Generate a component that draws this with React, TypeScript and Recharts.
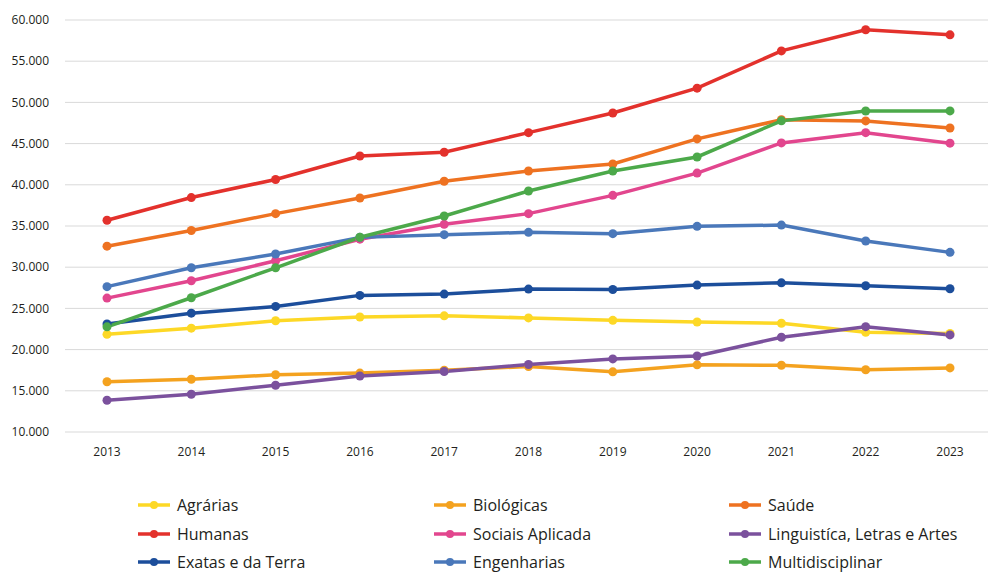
import React from 'react';
import { LineChart, Line, XAxis, YAxis, CartesianGrid, Legend } from 'recharts';

const years = ['2013', '2014', '2015', '2016', '2017', '2018', '2019', '2020', '2021', '2022', '2023'];

const agrarias = [21850, 22600, 23500, 23950, 24100, 23850, 23550, 23350, 23200, 22100, 21950];
const biologicas = [16100, 16400, 16950, 17150, 17500, 17950, 17300, 18150, 18100, 17550, 17780];
const saude = [32550, 34450, 36500, 38400, 40430, 41680, 42530, 45570, 47900, 47750, 46900];
const humanas = [35700, 38450, 40650, 43500, 43950, 46330, 48720, 51730, 56250, 58820, 58200];
const sociais = [26250, 28350, 30780, 33400, 35200, 36500, 38720, 41420, 45080, 46330, 45050];
const linguistica = [13850, 14580, 15680, 16800, 17340, 18190, 18870, 19230, 21500, 22780, 21780];
const exatas = [23100, 24420, 25240, 26580, 26740, 27340, 27300, 27830, 28100, 27750, 27380];
const engenharias = [27640, 29930, 31600, 33620, 33950, 34230, 34070, 34960, 35110, 33180, 31800];
const multidisciplinar = [22760, 26290, 29930, 33630, 36220, 39250, 41680, 43380, 47760, 48960, 48970];

const yTicks = [10000, 15000, 20000, 25000, 30000, 35000, 40000, 45000, 50000, 55000, 60000];

const seriesNames = [
  'Agrárias',
  'Biológicas',
  'Saúde',
  'Humanas',
  'Sociais Aplicada',
  'Linguistíca, Letras e Artes',
  'Exatas e da Terra',
  'Engenharias',
  'Multidisciplinar',
];
const seriesValues = [agrarias, biologicas, saude, humanas, sociais, linguistica, exatas, engenharias, multidisciplinar];
const seriesColors = ['#FDD826', '#F4A21F', '#EE7221', '#E3312C', '#E2468E', '#7B519D', '#1C4E9B', '#4A78BA', '#4CA94A'];
const seriesKeys = ['s0', 's1', 's2', 's3', 's4', 's5', 's6', 's7', 's8'];

const data = years.map((y, i) => {
  const row: Record<string, string | number> = { year: y };
  seriesKeys.forEach((k, j) => {
    row[k] = seriesValues[j][i];
  });
  return row;
});

const FONT = '"Open Sans", sans-serif';

const fmt = (v: number) => {
  const s = String(Math.round(v));
  return s.replace(/\B(?=(\d{3})+(?!\d))/g, '.');
};

const colLeft = [137, 433, 728];
const rowTop = [505, 534, 562];

const renderLegend = () => (
  <div style={{ position: 'relative', width: 988, height: 82, fontFamily: FONT }}>
    {seriesNames.map((name, i) => {
      const col = i % 3;
      const row = Math.floor(i / 3);
      return (
        <div
          key={name}
          style={{
            position: 'absolute',
            left: colLeft[col],
            top: rowTop[row] - 490 - 9,
            height: 18,
            lineHeight: '18px',
            display: 'flex',
            alignItems: 'center',
            whiteSpace: 'nowrap',
          }}
        >
          <svg width={34} height={12} style={{ marginRight: 6 }}>
            <line x1={1} y1={6} x2={33} y2={6} stroke={seriesColors[i]} strokeWidth={3.5} />
            <circle cx={17} cy={6} r={4} fill={seriesColors[i]} />
          </svg>
          <span style={{ fontSize: 16, lineHeight: '18px', color: '#231F20' }}>{name}</span>
        </div>
      );
    })}
  </div>
);

export default function App() {
  return (
    <div style={{ position: 'absolute', left: 0, top: 0, width: 988, height: 572, background: '#fff' }}>
      <LineChart width={988} height={572} data={data} margin={{ top: 20, right: 0, bottom: 28, left: 0 }}>
        <CartesianGrid horizontal vertical={false} stroke="#D9D9D9" strokeWidth={1} />
        <XAxis
          dataKey="year"
          axisLine={false}
          tickLine={false}
          tickSize={0}
          tickMargin={15}
          height={30}
          padding={{ left: 42, right: 38 }}
          interval={0}
          tick={{ fill: '#231F20', fontSize: 12, fontFamily: FONT }}
        />
        <YAxis
          domain={[10000, 60000]}
          ticks={yTicks}
          tickFormatter={fmt}
          axisLine={false}
          tickLine={false}
          tickSize={0}
          tickMargin={16}
          width={65}
          interval={0}
          tick={{ fill: '#231F20', fontSize: 12, fontFamily: FONT }}
        />
        <Legend
          verticalAlign="bottom"
          content={renderLegend}
          wrapperStyle={{ position: 'absolute', left: 0, top: 490, width: 988, height: 82 }}
        />
        {seriesKeys.map((k, i) => (
          <Line
            key={k}
            dataKey={k}
            name={seriesNames[i]}
            stroke={seriesColors[i]}
            strokeWidth={3.5}
            dot={{ r: 4.5, fill: seriesColors[i], stroke: seriesColors[i], strokeWidth: 0 }}
            activeDot={false}
            isAnimationActive={false}
          />
        ))}
      </LineChart>
    </div>
  );
}
